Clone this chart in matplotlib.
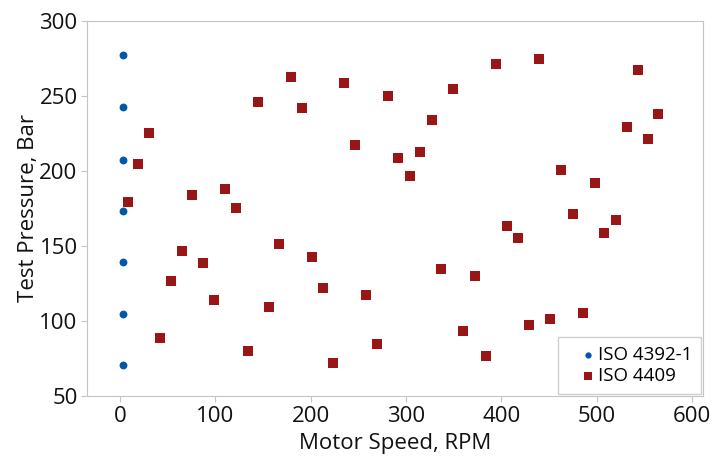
import matplotlib
matplotlib.use('Agg')
import matplotlib.pyplot as plt

# ISO 4392-1 points (all at ~0 rpm)
iso4392_speed = [3, 3, 3, 3, 3, 3, 3]
iso4392_pressure = [277, 242.5, 207.5, 173.5, 139, 104.5, 70.5]

# ISO 4409 points
iso4409_speed = [8, 19, 30, 42, 53, 65, 76, 87, 99, 110,
                 122, 134, 145, 156, 167, 179, 191, 201, 213, 224,
                 235, 247, 258, 270, 281, 292, 304, 315, 327, 337,
                 349, 360, 372, 384, 394, 406, 418, 429, 440, 451,
                 463, 475, 486, 498, 508, 520, 532, 543, 554, 565]
iso4409_pressure = [179.5, 204.5, 225.3, 88.8, 126.3, 146.9, 183.6, 138.7, 113.8, 187.9,
                    175.5, 80.2, 246.1, 109.6, 151.3, 262.8, 242, 142.7, 122, 72.2,
                    258.6, 217.2, 117.6, 84.6, 250.1, 208.7, 196.3, 212.7, 233.8, 134.7,
                    254.6, 93, 130.2, 76.4, 271.2, 163, 155.3, 97, 274.5, 101.2,
                    200.3, 171.3, 105.2, 191.9, 158.6, 167, 229.3, 267, 221.1, 237.8]

plt.rcParams['font.family'] = ['Open Sans', 'DejaVu Sans']

fig = plt.figure(figsize=(7.14, 4.57), dpi=100)
ax = fig.add_axes([0.1223, 0.1335, 0.8627, 0.8212])

ax.scatter(iso4392_speed, iso4392_pressure, marker='o', s=32, color='#0457a8',
           linewidths=0, label='ISO 4392-1', zorder=3)
ax.scatter(iso4409_speed, iso4409_pressure, marker='s', s=42, color='#9a1616',
           linewidths=0, label='ISO 4409', zorder=3)

ax.set_xlim(-34.3, 612)
ax.set_ylim(50, 300)
ax.set_xticks([0, 100, 200, 300, 400, 500, 600])
ax.set_yticks([50, 100, 150, 200, 250, 300])

for s in ax.spines.values():
    s.set_color('#c4c4c4')
ax.tick_params(colors='#c4c4c4', labelcolor='#111111', labelsize=16,
               length=4, direction='out', pad=3)

ax.set_xlabel('Motor Speed, RPM', fontsize=16, color='#111111', labelpad=4.5)
ax.set_ylabel('Test Pressure, Bar', fontsize=16, color='#111111', labelpad=0)

leg = ax.legend(loc='lower right', fontsize=13.5, frameon=True, fancybox=False,
                edgecolor='#c4c4c4', handlelength=2.2, handletextpad=-0.6,
                borderpad=0.5, labelspacing=0.15, markerscale=0.8,
                borderaxespad=0.1)
leg.get_frame().set_linewidth(1.0)

fig.savefig('out.png', dpi=100)
